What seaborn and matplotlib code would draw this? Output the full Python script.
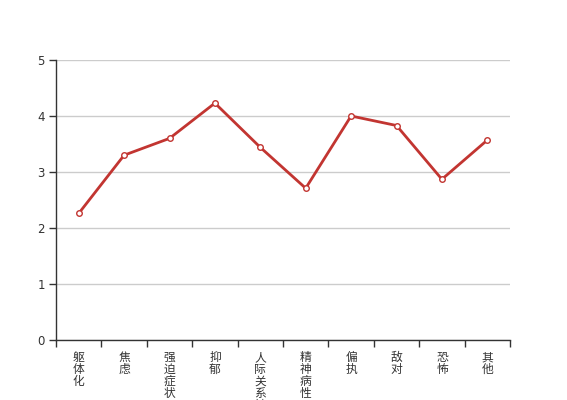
import matplotlib
matplotlib.use("Agg")
import matplotlib.pyplot as plt
import seaborn as sns
import pandas as pd
import numpy as np

categories = ["躯体化", "焦虑", "强迫症状", "抑郁", "人际关系敏感", "精神病性", "偏执", "敌对", "恐怖", "其他"]
values = [2.26, 3.30, 3.60, 4.23, 3.44, 2.71, 4.00, 3.83, 2.87, 3.57]
yticks = [0, 1, 2, 3, 4, 5]

sns.set_theme(style="white")
plt.rcParams['font.family'] = ['Noto Sans CJK SC', 'DejaVu Sans']

df = pd.DataFrame({"cat": categories, "val": values})
fig = plt.figure(figsize=(5.67, 4.0), dpi=100)
ax = fig.add_axes([56/567, 60/400, (510-56)/567, 280/400])

sns.lineplot(data=df, x="cat", y="val", ax=ax, color="#c23531", linewidth=2,
             marker="o", markersize=4, markerfacecolor="white",
             markeredgecolor="#c23531", markeredgewidth=1, sort=False)

ax.set_xlim(-0.5, len(categories) - 0.5)
ax.set_ylim(0, 5)
ax.set_yticks(yticks)
ax.set_yticklabels([str(v) for v in yticks], fontsize=8.5, color="#333333", family="DejaVu Sans")
ax.yaxis.grid(True, color="#cccccc", linewidth=1)
ax.set_axisbelow(True)

ax.set_xticks(range(len(categories)))
ax.set_xticklabels(["\n".join(c) for c in categories], fontsize=8.5, color="#333333",
                   linespacing=0.9, va="top")
ax.set_xticks(np.arange(-0.5, len(categories), 1.0), minor=True)
ax.tick_params(axis="x", which="major", length=0, pad=8)
ax.tick_params(axis="x", which="minor", length=5, width=1, color="#333333", direction="out", bottom=True)
ax.tick_params(axis="y", which="major", length=5, width=1, color="#333333", direction="out", left=True, pad=3)

for s in ["top", "right"]:
    ax.spines[s].set_visible(False)
for s in ["left", "bottom"]:
    ax.spines[s].set_color("#333333")
    ax.spines[s].set_linewidth(1)
ax.set_xlabel("")
ax.set_ylabel("")

fig.savefig("out.png", dpi=100)
